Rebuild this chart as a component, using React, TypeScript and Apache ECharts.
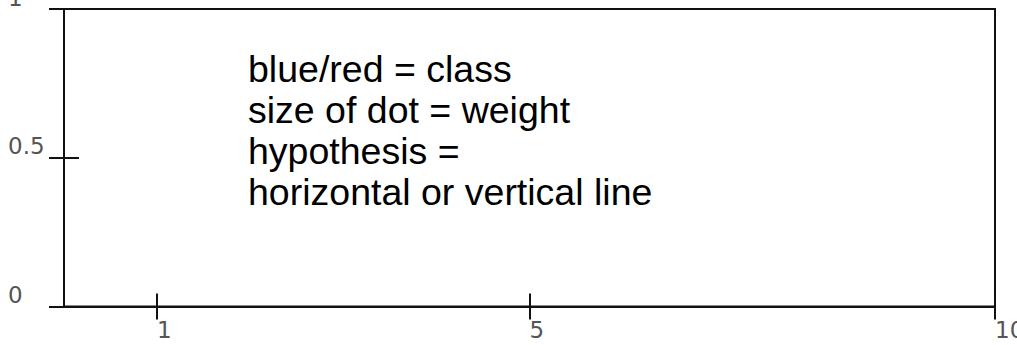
import React, { useEffect, useRef } from "react";
import * as echarts from "echarts";

// Axis ranges and tick positions
const X_RANGE = [0, 10];
const X_TICKS = [1, 5, 10];
const Y_RANGE = [0, 1];
const Y_INTERVAL = 0.5;

// Sample points (none plotted yet): [x, y, weight, class]
const POINTS: [number, number, number, number][] = [];

// Legend notes written inside the plot area
const NOTE_LINES = [
  "blue/red = class",
  "size of dot = weight",
  "hypothesis =",
  "horizontal or vertical line",
];

const LINE = { color: "#111", width: 2 };
const LABEL = { fontFamily: "DejaVu Sans", fontSize: 23, color: "#555" };

export default function App() {
  const ref = useRef<HTMLDivElement>(null);

  useEffect(() => {
    if (!ref.current) return;
    const chart = echarts.init(ref.current, null, { renderer: "svg" });

    const xBase = {
      type: "value" as const,
      min: X_RANGE[0],
      max: X_RANGE[1],
      position: "bottom" as const,
      splitLine: { show: false },
    };
    const yBase = {
      type: "value" as const,
      min: Y_RANGE[0],
      max: Y_RANGE[1],
      interval: Y_INTERVAL,
      position: "left" as const,
      splitLine: { show: false },
    };

    chart.setOption({
      animation: false,
      backgroundColor: "#fff",
      grid: {
        left: 64,
        top: 9,
        right: 22,
        bottom: 38.5,
        outerBoundsMode: "none",
        containLabel: false,
        show: true,
        borderColor: LINE.color,
        borderWidth: LINE.width,
        backgroundColor: "transparent",
      },
      xAxis: [
        {
          ...xBase,
          axisLine: { show: true, lineStyle: LINE },
          axisTick: { show: true, customValues: X_TICKS, length: 13, lineStyle: LINE },
          axisLabel: {
            show: true,
            customValues: X_TICKS,
            align: "left",
            margin: 12,
            ...LABEL,
          },
        },
        {
          ...xBase,
          axisLine: { show: false },
          axisTick: { show: true, inside: true, customValues: X_TICKS, length: 13, lineStyle: LINE },
          axisLabel: { show: false },
        },
      ],
      yAxis: [
        {
          ...yBase,
          axisLine: { show: true, lineStyle: LINE },
          axisTick: { show: true, length: 15, lineStyle: LINE },
          axisLabel: {
            show: true,
            align: "left",
            verticalAlign: "bottom",
            margin: 56,
            showMinLabel: true,
            showMaxLabel: true,
            ...LABEL,
          },
        },
        {
          ...yBase,
          axisLine: { show: false },
          axisTick: { show: true, inside: true, length: 15, lineStyle: LINE },
          axisLabel: { show: false },
        },
      ],
      series: [
        {
          type: "scatter",
          xAxisIndex: 0,
          yAxisIndex: 0,
          data: POINTS.map((p) => [p[0], p[1]]),
        },
      ],
      graphic: [
        {
          type: "text",
          left: 248,
          top: 48,
          style: {
            text: NOTE_LINES.join("\n"),
            fontFamily: "Liberation Sans",
            fontSize: 37.5,
            lineHeight: 41,
            fill: "#000",
          },
        },
      ],
    });

    return () => chart.dispose();
  }, []);

  return (
    <div
      ref={ref}
      style={{ position: "fixed", left: 0, top: 0, width: 1017, height: 345 }}
    />
  );
}
